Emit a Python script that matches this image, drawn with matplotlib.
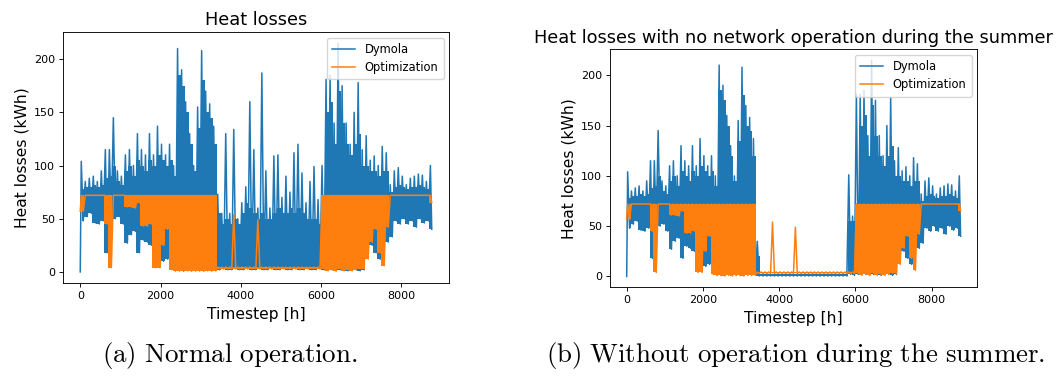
import numpy as np
import matplotlib
matplotlib.use("Agg")
import matplotlib.pyplot as plt

plt.rcParams["mathtext.fontset"] = "cm"

# Hourly heat losses over one year (8760 h), summarised per 100 h block:
# the block's highest and lowest reading, plus the level up to which the
# hourly trace is dense.
BLOCK_H = 100
YEAR_H = 8760

# --- Dymola simulation, normal operation ---------------------------------
dymola_start = 0.0
dymola_hi_a = [
    104, 85, 88, 90, 85, 95, 115, 115, 145, 95,
    90, 110, 115, 100, 130, 115, 110, 130, 110, 137,
    120, 110, 120, 100, 210, 190, 160, 130, 100, 155,
    208, 170, 158, 137,
    # summer
    73, 55, 130, 55, 134, 50, 65, 80, 160, 115,
    60, 187, 95, 60, 109, 110, 70, 90, 75, 112,
    120, 93, 65, 85, 99, 68, 100,
    # autumn / winter
    181, 185, 140, 215, 175, 140, 120, 150, 178, 115,
    128, 105, 109, 100, 118, 112, 82, 95, 98, 90,
    82, 88, 90, 92, 91, 85, 100,
]
dymola_mid_a = [
    78, 80, 80, 82, 80, 82, 88, 90, 100, 85,
    82, 95, 100, 90, 105, 100, 95, 105, 100, 110,
    105, 100, 105, 90, 185, 175, 150, 120, 95, 135,
    180, 150, 145, 120,
    # summer
    55, 45, 50, 45, 50, 45, 55, 65, 60, 55,
    50, 55, 50, 50, 55, 60, 55, 55, 60, 55,
    60, 55, 50, 50, 50, 45, 60,
    # autumn / winter
    150, 160, 120, 170, 140, 120, 110, 120, 130, 100,
    100, 95, 95, 90, 95, 95, 75, 80, 82, 80,
    78, 80, 80, 82, 80, 78, 76,
]
dymola_lo_a = [
    48, 52, 55, 46, 45, 48, 18, 50, 50, 52,
    45, 27, 35, 38, 18, 30, 28, 25, 20, 15,
    10, 12, 3, 1, 1, 1, 2, 1, 1, 1,
    1, 2, 1, 2,
    # summer
    2, 3, 2, 2, 3, 2, 2, 3, 2, 2,
    3, 2, 2, 3, 2, 2, 3, 2, 2, 3,
    2, 2, 3, 2, 2, 3, 2,
    # autumn / winter
    2, 2, 1, 2, 2, 1, 2, 2, 1, 2,
    15, 25, 18, 12, 30, 28, 33, 48, 45, 50,
    45, 48, 42, 50, 46, 48, 40,
]

# --- Dymola simulation, network switched off in summer (blocks 34-60) ----
summer_hi_b = [
    35, 2, 2, 2, 2, 2, 2, 2, 2, 2,
    2, 2, 2, 2, 2, 2, 2, 2, 2, 2,
    2, 2, 2, 2, 101, 60, 181,
]
summer_mid_b = [
    20, 2, 2, 2, 2, 2, 2, 2, 2, 2,
    2, 2, 2, 2, 2, 2, 2, 2, 2, 2,
    2, 2, 2, 2, 55, 55, 60,
]
summer_lo_b = [
    0.5, 0.5, 0.5, 0.5, 0.5, 0.5, 0.5, 0.5, 0.5, 0.5,
    0.5, 0.5, 0.5, 0.5, 0.5, 0.5, 0.5, 0.5, 0.5, 0.5,
    0.5, 0.5, 0.5, 0.5, 2, 1, 2,
]
dymola_hi_b = dymola_hi_a[:34] + summer_hi_b + dymola_hi_a[61:]
dymola_mid_b = dymola_mid_a[:34] + summer_mid_b + dymola_mid_a[61:]
dymola_lo_b = dymola_lo_a[:34] + summer_lo_b + dymola_lo_a[61:]

# --- Optimization result ---------------------------------------------------
optim_start = 57.0
optim_hi = (
    [72] * 34
    + [4.5, 4.5, 4.5, 4.5, 54, 4.5, 4.5, 4.5, 4.5, 4.5,
       49, 4.5, 4.5, 4.5, 4.5, 4.5, 4.5, 4.5, 4.5, 4.5,
       4.5, 4.5, 4.5, 4.5, 4.5, 4.5]
    + [72] * 28
)
optim_mid = (
    [72] * 34
    + [4.5] * 26
    + [72] * 28
)
optim_lo = [
    57, 72, 72, 72, 72, 72, 45, 4, 72, 72,
    72, 61, 61, 60, 65, 43, 43, 45, 4, 4,
    25, 40, 2, 1, 1, 0.5, 1, 0.5, 1, 1,
    0.5, 1, 1, 1,
    # summer
    3, 3, 3, 3, 3, 3, 3, 3, 3, 3,
    3, 3, 3, 3, 3, 3, 3, 3, 3, 3,
    3, 3, 3, 3, 3, 3,
    # autumn / winter
    3, 1, 2, 1, 3, 1, 2, 1, 2, 3,
    3, 12, 28, 40, 18, 6, 42, 72, 72, 72,
    72, 72, 72, 72, 72, 72, 72, 65,
]


def block_times(n):
    return np.minimum(np.arange(n) * BLOCK_H + BLOCK_H / 2, YEAR_H - 1)


def series(hi, lo, start):
    """Interleave block highs and lows on the hourly timestep axis."""
    n = len(hi)
    blocks = np.arange(n) * BLOCK_H
    t = np.empty(2 * n)
    v = np.empty(2 * n)
    t[0::2] = blocks + 25
    t[1::2] = np.minimum(blocks + 75, YEAR_H - 1)
    v[0::2] = hi
    v[1::2] = lo
    return np.concatenate([[0], t]), np.concatenate([[start], v])


def draw(ax, hi, lo, dense_top, start, color, label, z):
    tb = block_times(len(hi))
    ax.fill_between(tb, lo, dense_top, step="mid", color=color, lw=0,
                    zorder=z)
    t, v = series(hi, lo, start)
    ax.plot(t, v, color=color, lw=LW, label=label, zorder=z + 0.1)


BLUE = "#1f77b4"
ORANGE = "#ff7f0e"
LW = 1.1

fig = plt.figure(figsize=(10.57, 3.76), dpi=100)
ax_a = fig.add_axes([0.0593, 0.2465, 0.3658, 0.669])
ax_b = fig.add_axes([0.5771, 0.2359, 0.3475, 0.633])

panels = [
    (ax_a, dymola_hi_a, dymola_mid_a, dymola_lo_a, "Heat losses"),
    (ax_b, dymola_hi_b, dymola_mid_b, dymola_lo_b,
     "Heat losses with no network operation during the summer"),
]

for ax, d_hi, d_mid, d_lo, title in panels:
    draw(ax, d_hi, d_lo, d_mid, dymola_start, BLUE, "Dymola", 2)
    draw(ax, optim_hi, optim_lo, optim_mid, optim_start, ORANGE,
         "Optimization", 3)
    ax.set_xticks([0, 2000, 4000, 6000, 8000])
    ax.set_yticks([0, 50, 100, 150, 200])
    ax.tick_params(labelsize=8, length=2.8, width=0.64, pad=2.8)
    for s in ax.spines.values():
        s.set_linewidth(0.64)
    ax.set_xlabel("Timestep [h]", fontsize=11.2, labelpad=4)
    ax.set_ylabel("Heat losses (kWh)", fontsize=11.2, labelpad=3)
    ax.set_title(title, fontsize=12.8, pad=4.8)
    leg = ax.legend(loc="upper right", fontsize=8.3, handlelength=2.0,
                    borderpad=0.45, labelspacing=0.45, framealpha=0.8)
    leg.set_zorder(5)

fig.text(0.2176, 0.054, r"$\mathrm{(a)\ Normal\ operation.}$",
         ha="center", va="center", fontsize=19.4)
fig.text(0.753, 0.054, r"$\mathrm{(b)\ Without\ operation\ during\ the\ summer.}$",
         ha="center", va="center", fontsize=19.4)

fig.savefig("out.png", dpi=100)
